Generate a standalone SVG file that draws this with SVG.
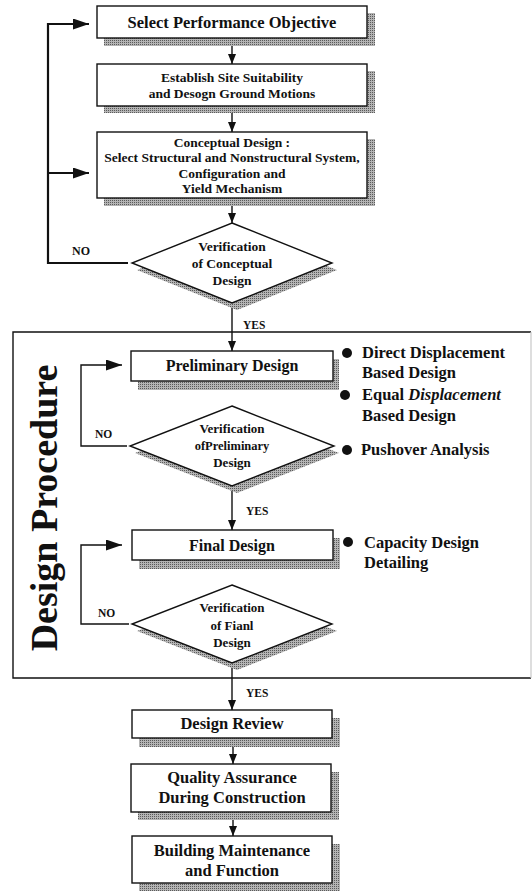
<svg xmlns="http://www.w3.org/2000/svg" width="532" height="891" viewBox="0 0 532 891">
<style>
text{font-family:"Liberation Serif","Times New Roman",serif;font-weight:bold;fill:#111;text-anchor:middle}
.box{fill:#fff;stroke:#111;stroke-width:1.4}
.sh{fill:url(#dots);stroke:none}
.t16{font-size:16.5px}
.t135{font-size:13.5px}
.t13{font-size:13px}
.lbl{font-size:11.5px;text-anchor:start}
.side{font-size:16.5px;text-anchor:start}
.ln{fill:none;stroke:#111;stroke-width:1.4}
.lnb{fill:none;stroke:#111;stroke-width:2.2}
.dot{fill:#111}
</style>
<defs>
<pattern id="dots" width="2" height="2" patternUnits="userSpaceOnUse">
<rect width="2" height="2" fill="#b4b4b4"/>
<rect width="1" height="1" fill="#5a5a5a"/>
</pattern>
<marker id="arr" markerUnits="userSpaceOnUse" markerWidth="10" markerHeight="8" refX="10" refY="4" orient="auto">
<path d="M0,0 L10,4 L0,8 z" fill="#111"/>
</marker>
<marker id="arrL" markerUnits="userSpaceOnUse" markerWidth="16" markerHeight="11" refX="16" refY="5.5" orient="auto">
<path d="M0,0 L16,5.5 L0,11 z" fill="#111"/>
</marker>
</defs>

<g id="design-procedure">
<path d="M531,332 L13,332 L13,678 L531,678" class="ln" stroke-width="1.6"/>
<line x1="531" y1="332" x2="531" y2="678" stroke="#c8c8c8" stroke-width="1.2"/>
<text x="0" y="0" transform="translate(57,508) rotate(-90)" style="font-size:38px">Design Procedure</text>
</g>

<g id="connectors">
<line x1="232" y1="38" x2="232" y2="64" class="ln" marker-end="url(#arr)"/>
<line x1="232" y1="106" x2="232" y2="132" class="ln" marker-end="url(#arr)"/>
<line x1="232" y1="198" x2="232" y2="223" class="ln" marker-end="url(#arr)"/>
<polyline points="128,263 48,263 48,24 89,24" class="lnb" marker-end="url(#arrL)"/>
<line x1="48" y1="173" x2="89" y2="173" class="lnb" marker-end="url(#arrL)"/>
<text x="72" y="255" class="lbl" style="font-size:12px">NO</text>
<line x1="232" y1="303" x2="232" y2="351" class="ln" marker-end="url(#arr)"/>
<text x="243" y="329" class="lbl">YES</text>
<polyline points="127,446 81,446 81,365 122,365" class="ln" marker-end="url(#arrL)"/>
<text x="95" y="438" class="lbl">NO</text>
<line x1="232" y1="486" x2="232" y2="530" class="ln" marker-end="url(#arr)"/>
<text x="246" y="515" class="lbl">YES</text>
<polyline points="129,624 81,624 81,545 122,545" class="ln" marker-end="url(#arrL)"/>
<text x="98" y="617" class="lbl">NO</text>
<line x1="232" y1="663" x2="232" y2="710" class="ln" marker-end="url(#arr)"/>
<text x="246" y="697" class="lbl">YES</text>
<line x1="233" y1="738" x2="233" y2="764" class="ln" marker-end="url(#arr)"/>
<line x1="233" y1="812" x2="233" y2="836" class="ln" marker-end="url(#arr)"/>
</g>

<g id="select-performance-objective">
<rect x="104" y="13" width="271" height="33" class="sh"/>
<rect x="97" y="6" width="270" height="32" class="box"/>
<text x="232" y="28" class="t16">Select Performance Objective</text>
</g>

<g id="establish-site">
<rect x="104" y="71" width="271" height="42" class="sh"/>
<rect x="97" y="64" width="270" height="42" class="box"/>
<text x="232" y="82" class="t135">Establish Site Suitability</text>
<text x="232" y="98" class="t135">and Desogn Ground Motions</text>
</g>

<g id="conceptual-design">
<rect x="104" y="139" width="271" height="67" class="sh"/>
<rect x="97" y="132" width="270" height="66" class="box"/>
<text x="232" y="146.5" class="t135">Conceptual Design :</text>
<text x="232" y="162" class="t135">Select Structural and Nonstructural System,</text>
<text x="232" y="177.5" class="t135">Configuration and</text>
<text x="232" y="193" class="t135">Yield Mechanism</text>
</g>

<g id="verification-conceptual">
<polygon points="237,230 337,270 237,310 137,270" class="sh"/>
<polygon points="232,223 332,263 232,303 132,263" class="box"/>
<text x="232" y="251" class="t135">Verification</text>
<text x="232" y="268" class="t135">of Conceptual</text>
<text x="232" y="285" class="t135">Design</text>
</g>

<g id="preliminary-design">
<rect x="138" y="359" width="201" height="31" class="sh"/>
<rect x="131" y="351" width="202" height="30" class="box"/>
<text x="232" y="371" style="font-size:16px">Preliminary Design</text>
</g>

<g id="verification-preliminary">
<polygon points="237,413 339,453 237,493 135,453" class="sh"/>
<polygon points="232,406 334,446 232,486 130,446" class="box"/>
<text x="232" y="433" class="t13">Verification</text>
<text x="232" y="450" style="font-size:12.5px">ofPreliminary</text>
<text x="232" y="467" class="t13">Design</text>
</g>

<g id="final-design">
<rect x="139" y="538" width="201" height="31" class="sh"/>
<rect x="132" y="530" width="201" height="30" class="box"/>
<text x="232" y="551" style="font-size:16px">Final Design</text>
</g>

<g id="verification-final">
<polygon points="237,592 337,631 237,670 137,631" class="sh"/>
<polygon points="232,585 332,624 232,663 132,624" class="box"/>
<text x="232" y="612" class="t13">Verification</text>
<text x="232" y="630" class="t13">of Fianl</text>
<text x="232" y="647" class="t13">Design</text>
</g>

<g id="design-review">
<rect x="139" y="718" width="201" height="29" class="sh"/>
<rect x="132" y="710" width="200" height="28" class="box"/>
<text x="232" y="729" class="t16">Design Review</text>
</g>

<g id="quality-assurance">
<rect x="138" y="772" width="201" height="48" class="sh"/>
<rect x="131" y="764" width="200" height="48" class="box"/>
<text x="232" y="783" class="t16">Quality Assurance</text>
<text x="232" y="803" class="t16">During Construction</text>
</g>

<g id="building-maintenance">
<rect x="139" y="844" width="201" height="47" class="sh"/>
<rect x="132" y="836" width="200" height="47" class="box"/>
<text x="232" y="856" class="t16">Building Maintenance</text>
<text x="232" y="876" class="t16">and Function</text>
</g>

<g id="note-direct-displacement">
<circle cx="347" cy="353" r="5" class="dot"/>
<text x="362" y="358" class="side">Direct Displacement</text>
<text x="362" y="378" class="side">Based Design</text>
</g>

<g id="note-equal-displacement">
<circle cx="345" cy="395" r="5" class="dot"/>
<text x="362" y="400" class="side">Equal <tspan font-style="italic">Displacement</tspan></text>
<text x="362" y="421" class="side">Based Design</text>
</g>

<g id="note-pushover">
<circle cx="347" cy="450" r="5" class="dot"/>
<text x="361" y="455" class="side">Pushover Analysis</text>
</g>

<g id="note-capacity">
<circle cx="348" cy="542" r="5" class="dot"/>
<text x="364" y="548" class="side">Capacity Design</text>
<text x="364" y="568" class="side">Detailing</text>
</g>
</svg>
